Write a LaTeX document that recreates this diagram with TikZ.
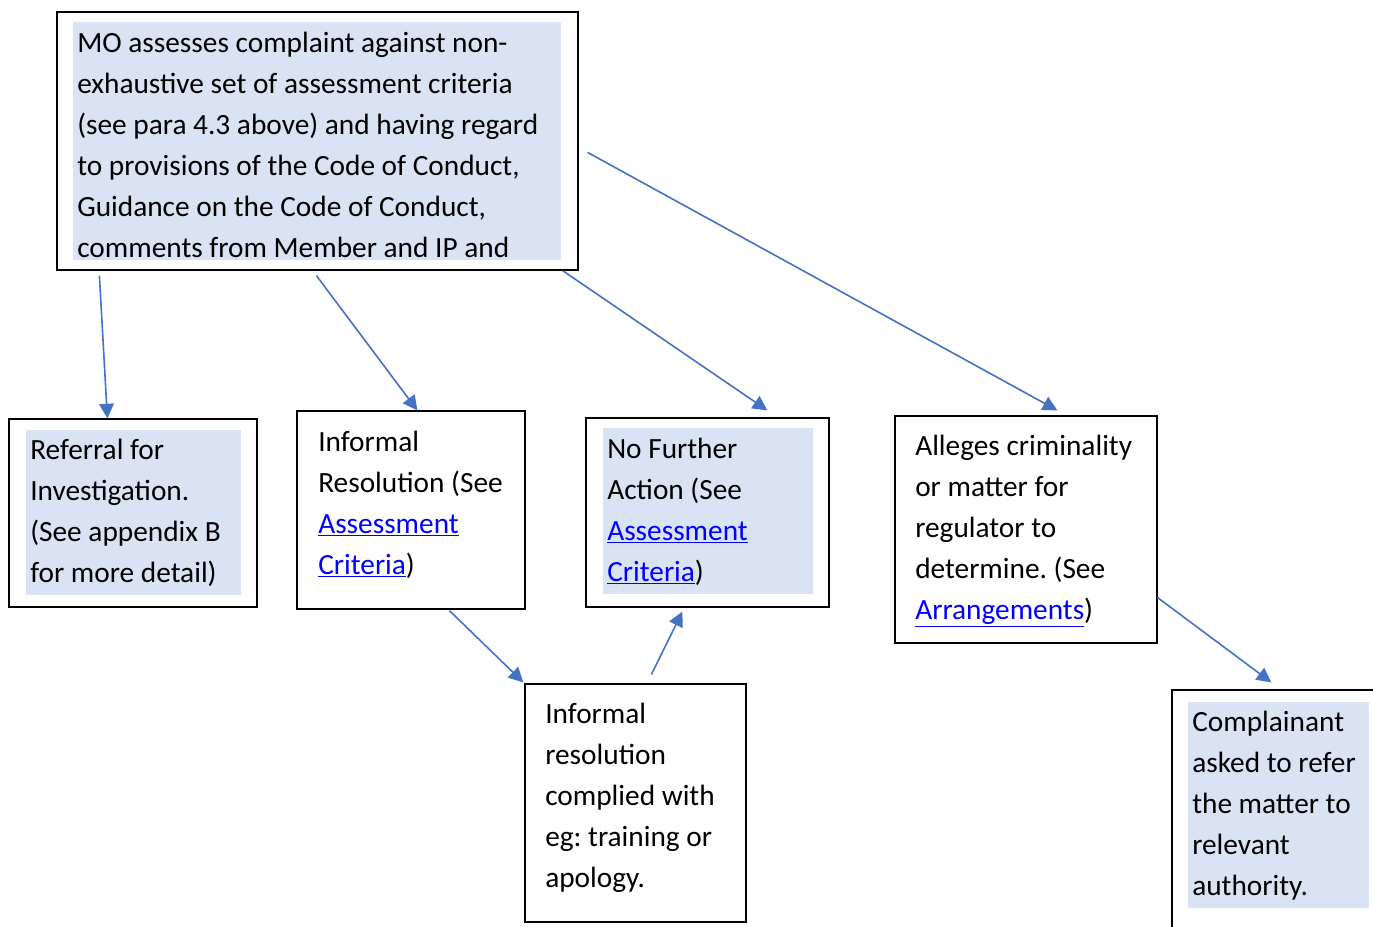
\documentclass[tikz,border=0pt]{standalone}
\usepackage{fontspec}
\setmainfont{Carlito}
\usetikzlibrary{arrows.meta,fit,calc}
\definecolor{hl}{HTML}{DAE3F3}
\definecolor{arr}{HTML}{4472C4}
\definecolor{lnk}{HTML}{0000FF}
\frenchspacing
\newcommand{\lnktxt}[1]{\textcolor{lnk}{\underline{#1}}}
\newcommand{\blocktxt}[1]{\parbox[t]{20cm}{\raggedright #1}}
\begin{document}
\begin{tikzpicture}[x=0.75pt,y=-0.75pt,
  boxc/.style={draw=black,line width=0.9pt,inner sep=0pt},
  txt/.style={anchor=base west,inner sep=0pt,font=\fontsize{22pt}{30.75pt}\selectfont},
  conn/.style={draw=arr,line width=1.2pt,-{Triangle[length=11pt,width=11pt]}}]
\useasboundingbox (0,0) rectangle (1373,926);
\clip (0,0) rectangle (1373,926);
% highlights
\fill[hl] (73,22) rectangle (561,260);
\fill[hl] (26,430) rectangle (241,595);
\fill[hl] (603,428) rectangle (813,594);
\fill[hl] (1188,702) rectangle (1369,908);
% boxes
\path (57,12) coordinate (mo1) (578,270) coordinate (mo2);
\node[boxc,fit=(mo1)(mo2)] (mo) {};
\path (9,419) coordinate (r1) (257,607) coordinate (r2);
\node[boxc,fit=(r1)(r2)] (ref) {};
\path (297,411) coordinate (i1) (525,609) coordinate (i2);
\node[boxc,fit=(i1)(i2)] (ir) {};
\path (586,418) coordinate (n1) (829,607) coordinate (n2);
\node[boxc,fit=(n1)(n2)] (nfa) {};
\path (895,416) coordinate (a1) (1157,643) coordinate (a2);
\node[boxc,fit=(a1)(a2)] (al) {};
\path (525,684) coordinate (c1) (746,922) coordinate (c2);
\node[boxc,fit=(c1)(c2)] (co) {};
\path (1172,690) coordinate (p1) (1390,940) coordinate (p2);
\node[boxc,fit=(p1)(p2)] (cp) {};
% texts
\node[txt] (tmo) at (77,52) {\blocktxt{MO assesses complaint against non-\\exhaustive set of assessment criteria\\(see para 4.3 above) and having regard\\to provisions of the Code of Conduct,\\Guidance on the Code of Conduct,\\comments from Member and IP and}};
\node[txt] (tref) at (30,459) {\blocktxt{Referral for\\Investigation.\\(See appendix B\\for more detail)}};
\node[txt] (tir) at (318,451) {\blocktxt{Informal\\Resolution (See\\\lnktxt{Assessment}\\\lnktxt{Criteria})}};
\node[txt] (tnfa) at (607,458) {\blocktxt{No Further\\Action (See\\\lnktxt{Assessment}\\\lnktxt{Criteria})}};
\node[txt] (tal) at (915,455) {\blocktxt{Alleges criminality\\or matter for\\regulator to\\determine. (See\\\lnktxt{Arrangements})}};
\node[txt] (tco) at (545,723) {\blocktxt{Informal\\resolution\\complied with\\eg: training or\\apology.}};
\node[txt] (tcp) at (1192,731) {\blocktxt{Complainant\\asked to refer\\the matter to\\relevant\\authority.}};
% connectors
\draw[conn] ($(mo.south west)+(43,5)$) -- ($(ref.north west)+(99,0)$);
\draw[conn] ($(mo.south west)+(260,5)$) -- ($(ir.north west)+(121,0)$);
\draw[conn] ($(mo.south east)+(-16,0)$) -- ($(nfa.north west)+(182,-7)$);
\draw[conn] ($(mo.north east)+(9,141)$) -- ($(al.north west)+(163,-5)$);
\draw[conn] ($(ir.south west)+(153,1)$) -- ($(co.north west)+(-1,-1)$);
\draw[conn] ($(co.north west)+(127,-9)$) -- ($(nfa.south west)+(97,4)$);
\draw[conn] ($(al.south east)+(0,-46)$) -- ($(cp.north west)+(100,-7)$);
\end{tikzpicture}
\end{document}
